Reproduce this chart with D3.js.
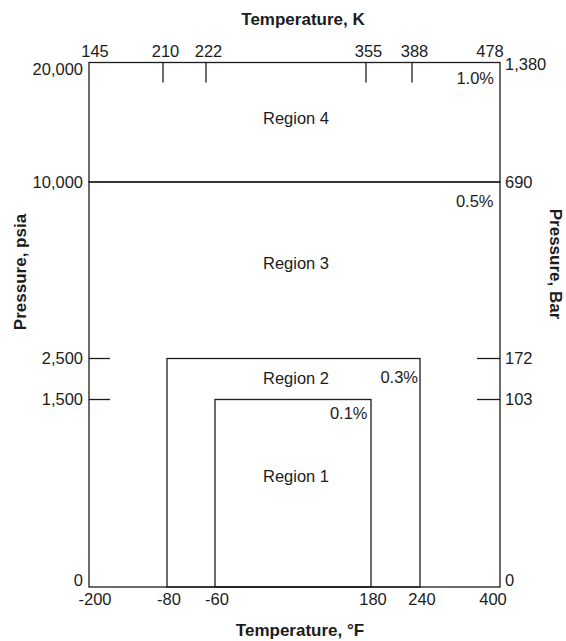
<!DOCTYPE html>
<html><head><meta charset="utf-8">
<script src="https://cdn.jsdelivr.net/npm/d3@7"></script>
<style>
body{margin:0;background:#fff}
svg{display:block;font-family:"Liberation Sans",Arial,Helvetica,sans-serif}
</style></head><body>
<svg id="chart" width="566" height="641"></svg>
<script>
// Temperature ticks: °F along the bottom, K along the top
const tempF = [-200, -80, -60, 180, 240, 400];
const tempK = [145, 210, 222, 355, 388, 478];

// Pressure ticks: psia on the left, bar on the right
const pressPsia = [0, 1500, 2500, 10000, 20000];
const pressBar = [0, 103, 172, 690, 1380];
const psiaLabels = ["0", "1,500", "2,500", "10,000", "20,000"];
const barLabels = ["0", "103", "172", "690", "1,380"];

// Operating regions and their accuracy
const regionNames = ["Region 4", "Region 3", "Region 2", "Region 1"];
const regionAccuracy = ["1.0%", "0.5%", "0.3%", "0.1%"];
const regionTempLo = [-200, -200, -80, -60];
const regionTempHi = [400, 400, 240, 180];
const regionPressLo = [10000, 0, 0, 0];
const regionPressHi = [20000, 10000, 2500, 1500];

const regions = regionNames.map((name, i) => ({
  name, acc: regionAccuracy[i],
  t0: regionTempLo[i], t1: regionTempHi[i],
  p0: regionPressLo[i], p1: regionPressHi[i]
}));

// Label placement inside each region (offsets from the region's top / right edge)
const nameBaseline = [61, 87, 25, 82];
const accDx = [-6, -6.5, -2, -3.5];
const accBaseline = [21, 25, 24.5, 19.5];

const ink = "#1c1c1c";
const frame = {left: 89, right: 500, top: 62.5, bottom: 587};

// The axes are schematic (not to scale): piecewise-linear scales through the tick values
const x = d3.scaleLinear().domain(tempF).range([frame.left, 167, 215, 371, 420, frame.right]);
const xK = d3.scaleLinear().domain(tempK).range([frame.left, 163, 206, 366, 412, frame.right]);
const y = d3.scaleLinear().domain(pressPsia).range([frame.bottom, 399.5, 358.5, 182, frame.top]);
const yBar = d3.scaleLinear().domain(pressBar).range(y.range());

const svg = d3.select("#chart");
const g = svg.append("g");

// Region boxes
g.selectAll("rect.region").data(regions).join("rect")
  .attr("class", "region")
  .attr("x", d => x(d.t0))
  .attr("y", d => y(d.p1))
  .attr("width", d => x(d.t1) - x(d.t0))
  .attr("height", d => y(d.p0) - y(d.p1))
  .attr("fill", "none")
  .attr("stroke", ink)
  .attr("stroke-width", 1.3);

// Region names
g.selectAll("text.rname").data(regions).join("text")
  .attr("class", "rname")
  .attr("x", (frame.left + frame.right) / 2 + 1.5)
  .attr("y", (d, i) => y(d.p1) + nameBaseline[i])
  .attr("text-anchor", "middle")
  .attr("font-size", 16.5)
  .attr("fill", ink)
  .text(d => d.name);

// Accuracy labels in the upper-right corner of each region
g.selectAll("text.racc").data(regions).join("text")
  .attr("class", "racc")
  .attr("x", (d, i) => x(d.t1) + accDx[i])
  .attr("y", (d, i) => y(d.p1) + accBaseline[i])
  .attr("text-anchor", "end")
  .attr("font-size", 16.5)
  .attr("fill", ink)
  .text(d => d.acc);

// Top (K) ticks pointing into the frame, interior values only
g.selectAll("line.ktick").data(tempK.slice(1, -1)).join("line")
  .attr("class", "ktick")
  .attr("x1", d => xK(d)).attr("x2", d => xK(d))
  .attr("y1", frame.top).attr("y2", frame.top + 20)
  .attr("stroke", ink).attr("stroke-width", 1.3);

const last = tempK.length - 1;
g.selectAll("text.klab").data(tempK).join("text")
  .attr("class", "klab")
  .attr("x", (d, i) => xK(d) + (i === 0 ? 6 : i === last ? -10 : 2.5))
  .attr("y", 56.5)
  .attr("text-anchor", "middle")
  .attr("font-size", 16.5)
  .attr("fill", ink)
  .text(d => d);

// Bottom (°F) labels
g.selectAll("text.flab").data(tempF).join("text")
  .attr("class", "flab")
  .attr("x", (d, i) => x(d) + (i === 0 ? 6 : i === tempF.length - 1 ? -7 : 2))
  .attr("y", 605)
  .attr("text-anchor", "middle")
  .attr("font-size", 16.5)
  .attr("fill", ink)
  .text(d => d);

// Left (psia) ticks at the region 1 and 2 limits
g.selectAll("line.ptick").data([1500, 2500]).join("line")
  .attr("class", "ptick")
  .attr("x1", frame.left).attr("x2", frame.left + 21)
  .attr("y1", d => y(d)).attr("y2", d => y(d))
  .attr("stroke", ink).attr("stroke-width", 1.3);

const clamp = (v, lo, hi) => Math.max(lo, Math.min(hi, v));
g.selectAll("text.plab").data(pressPsia).join("text")
  .attr("class", "plab")
  .attr("x", frame.left - 6)
  .attr("y", d => clamp(y(d), frame.top + 6.5, frame.bottom - 6.5))
  .attr("dy", "0.35em")
  .attr("text-anchor", "end")
  .attr("font-size", 16.5)
  .attr("fill", ink)
  .text((d, i) => psiaLabels[i]);

// Right (bar) ticks
g.selectAll("line.btick").data([103, 172]).join("line")
  .attr("class", "btick")
  .attr("x1", frame.right - 23).attr("x2", frame.right)
  .attr("y1", d => yBar(d)).attr("y2", d => yBar(d))
  .attr("stroke", ink).attr("stroke-width", 1.3);

g.selectAll("text.blab").data(pressBar).join("text")
  .attr("class", "blab")
  .attr("x", frame.right + 5)
  .attr("y", d => clamp(yBar(d), frame.top + 1.5, frame.bottom - 6.5))
  .attr("dy", "0.35em")
  .attr("text-anchor", "start")
  .attr("font-size", 16.5)
  .attr("fill", ink)
  .text((d, i) => barLabels[i]);

// Axis titles
const title = (txt, tx, ty, rot) => g.append("text")
  .attr("transform", `translate(${tx},${ty}) rotate(${rot})`)
  .attr("text-anchor", "middle")
  .attr("font-size", 17)
  .attr("font-weight", "bold")
  .attr("fill", ink)
  .text(txt);

title("Temperature, K", 303, 25, 0);
title("Temperature, \u00B0F", 300, 636, 0);
title("Pressure, psia", 26, 272, -90);
title("Pressure, Bar", 550, 264, 90);
</script>
</body></html>
